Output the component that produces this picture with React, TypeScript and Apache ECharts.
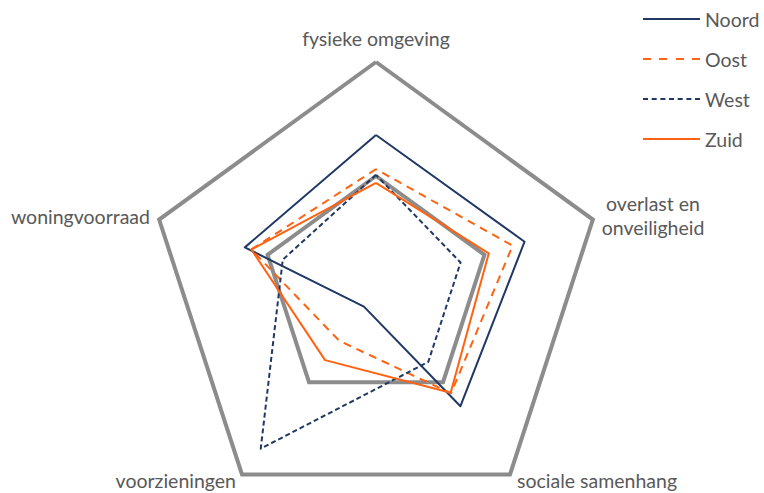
import React, { useEffect, useRef } from "react";
import * as echarts from "echarts";

const indicators = [
  "fysieke omgeving",
  "woningvoorraad",
  "voorzieningen",
  "sociale samenhang",
  "overlast en\nonveiligheid",
];
const districts = ["Noord", "Oost", "West", "Zuid"];
// values in the order of indicators
const noord = [0.68, 0.605, 0.09, 0.63, 0.685];
const oost = [0.53, 0.575, 0.275, 0.56, 0.63];
const west = [0.505, 0.43, 0.86, 0.39, 0.39];
const zuid = [0.47, 0.575, 0.38, 0.557, 0.52];

const NAVY = "#1f3864";
const ORANGE = "#ff6210";
const GRAY = "#8c8c8c";
const TEXT = "#595959";
const FONT = "Lato, 'Open Sans', sans-serif";

const CX = 376;
const CY = 290;
const R = 228;

export default function App() {
  const ref = useRef<HTMLDivElement>(null);
  useEffect(() => {
    document.body.style.margin = "0";
    const chart = echarts.init(ref.current!, null, { renderer: "svg" });
    const styles = [
      { color: NAVY, type: "solid" as any },
      { color: ORANGE, type: [8, 6] as any },
      { color: NAVY, type: [5, 3] as any },
      { color: ORANGE, type: "solid" as any },
    ];
    const values = [noord, oost, west, zuid];
    const icons = [
      "path://M0,0h57v2h-57z",
      "path://M0,0h8v2h-8z M16,0h8v2h-8z M33,0h8v2h-8z M49,0h8v2h-8z",
      "path://M0,0h5v2h-5z M8.7,0h5v2h-5z M17.4,0h5v2h-5z M26,0h5v2h-5z M34.7,0h5v2h-5z M43.4,0h5v2h-5z M52,0h5v2h-5z",
      "path://M0,0h57v2h-57z",
    ];
    const labelPos = [
      { x: CX, y: 38, align: "center" },
      { x: 150, y: 216, align: "right" },
      { x: 236, y: 480, align: "right" },
      { x: 517, y: 480, align: "left" },
      { x: 653, y: 215, align: "center" },
    ];
    chart.setOption({
      animation: false,
      legend: {
        orient: "vertical",
        left: 643,
        top: 9,
        padding: 0,
        itemWidth: 57,
        itemHeight: 2,
        itemGap: 20,
        itemStyle: { borderWidth: 0 },
        textStyle: { color: TEXT, fontSize: 19.5, fontFamily: FONT, lineHeight: 20 },
        data: districts.map((d, i) => ({ name: d, icon: icons[i], itemStyle: { color: styles[i].color } })),
      },
      radar: {
        center: [CX, CY],
        radius: R,
        startAngle: 90,
        splitNumber: 2,
        shape: "polygon",
        indicator: indicators.map((n) => ({ name: n, min: 0, max: 1 })),
        axisName: { show: false },
        axisLine: { show: false },
        axisTick: { show: false },
        axisLabel: { show: false },
        splitArea: { show: false },
        splitLine: { lineStyle: { color: GRAY, width: 4 } },
      },
      graphic: indicators.map((n, i) => ({
        type: "text",
        x: labelPos[i].x,
        y: labelPos[i].y,
        style: {
          text: n,
          fill: TEXT,
          font: `19.5px ${FONT}`,
          align: labelPos[i].align,
          verticalAlign: "middle",
          lineHeight: 24,
        },
      })),
      series: [
        {
          type: "radar",
          symbol: "none",
          data: districts.map((d, i) => ({
            name: d,
            value: values[i],
            itemStyle: { color: styles[i].color },
            lineStyle: { color: styles[i].color, width: 2, type: styles[i].type },
          })),
        },
      ],
    });
    return () => chart.dispose();
  }, []);
  return <div ref={ref} style={{ width: 764, height: 493 }} />;
}
